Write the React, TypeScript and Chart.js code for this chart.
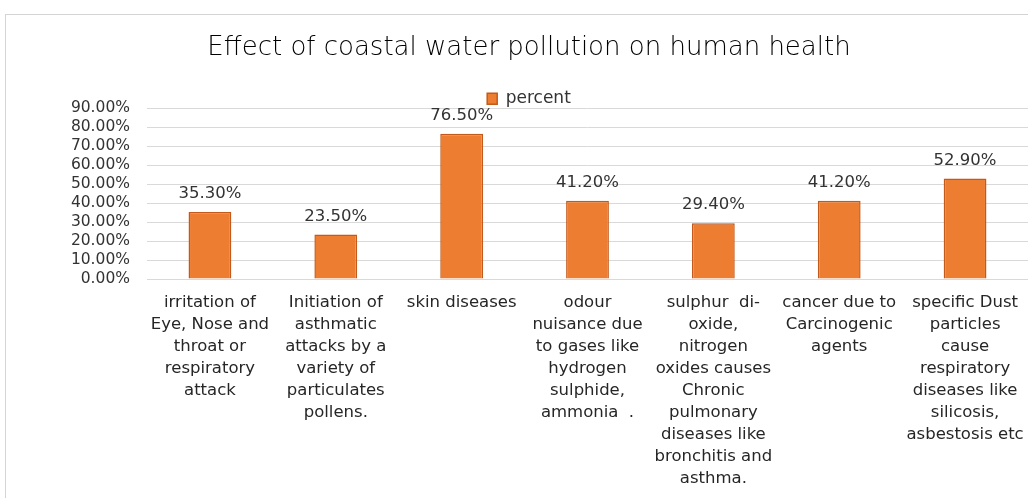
import React, { useEffect, useRef } from "react";
import { Chart, registerables } from "chart.js";

Chart.register(...registerables);

const categories: string[][] = [
  ["irritation of", "Eye, Nose and", "throat or", "respiratory", "attack"],
  ["Initiation of", "asthmatic", "attacks by a", "variety of", "particulates", "pollens."],
  ["skin diseases"],
  ["odour", "nuisance due", "to gases like", "hydrogen", "sulphide,", "ammonia  ."],
  ["sulphur  di-", "oxide,", "nitrogen", "oxides causes", "Chronic", "pulmonary", "diseases like", "bronchitis and", "asthma."],
  ["cancer due to", "Carcinogenic", "agents"],
  ["specific Dust", "particles", "cause", "respiratory", "diseases like", "silicosis,", "asbestosis etc"],
];
const percentValues: number[] = [35.3, 23.5, 76.5, 41.2, 29.4, 41.2, 52.9];
const seriesName = "percent";
const chartTitle = "Effect of coastal water pollution on human health";
const yMax = 90;
const yStep = 10;

const FONT = "'DejaVu Sans', 'Open Sans', sans-serif";

const dataLabelPlugin = {
  id: "dataLabels",
  afterDatasetsDraw(chart: any) {
    const ctx = chart.ctx;
    const meta = chart.getDatasetMeta(0);
    ctx.save();
    ctx.font = `16.5px ${FONT}`;
    ctx.fillStyle = "#333333";
    ctx.textAlign = "center";
    ctx.textBaseline = "middle";
    meta.data.forEach((bar: any, i: number) => {
      ctx.fillText(percentValues[i].toFixed(2) + "%", bar.x, bar.y - 18);
    });
    ctx.restore();
  },
};

// nudges the legend down so it sits just above the top gridline, as in the reference
const legendShiftPlugin = {
  id: "legendShift",
  afterLayout(chart: any) {
    const lg = chart.legend;
    if (lg) {
      lg.top += 9;
      lg.bottom += 9;
    }
  },
};

export default function App() {
  const ref = useRef<HTMLCanvasElement>(null);
  useEffect(() => {
    if (!ref.current) return;
    const chart = new Chart(ref.current, {
      type: "bar",
      data: {
        labels: categories,
        datasets: [
          {
            label: seriesName,
            data: percentValues,
            backgroundColor: "#ED7D31",
            borderColor: "#C25A1C",
            borderWidth: 1.5,
            categoryPercentage: 1,
            barPercentage: 0.34,
          },
        ],
      },
      options: {
        responsive: false,
        animation: false,
        layout: { padding: { left: 0, right: 0, top: 0, bottom: 0 } },
        plugins: {
          title: {
            display: true,
            text: chartTitle,
            color: "#000000",
            font: { family: FONT, size: 26, weight: "200" },
            padding: { top: 18, bottom: 17 },
          },
          legend: {
            display: true,
            labels: {
              color: "#333333",
              font: { family: FONT, size: 17 },
              boxWidth: 10,
              boxHeight: 11,
              padding: 0,
            },
          },
          tooltip: { enabled: false },
        },
        scales: {
          x: {
            grid: { display: false },
            border: { color: "#d9d9d9" },
            ticks: {
              color: "#262626",
              font: { family: FONT, size: 16.5, lineHeight: 1.333 },
              maxRotation: 0,
              autoSkip: false,
              padding: 5,
            },
            afterFit(scale: any) {
              scale.height = 219;
            },
          },
          y: {
            min: 0,
            max: yMax,
            ticks: {
              stepSize: yStep,
              autoSkip: false,
              color: "#333333",
              font: { family: FONT, size: 15.5 },
              padding: 17,
              callback: (v: any) => Number(v).toFixed(2) + "%",
            },
            grid: { color: "#d9d9d9", drawTicks: false },
            border: { display: false },
            afterFit(scale: any) {
              scale.width = 141;
            },
          },
          yRightSpace: {
            position: "right",
            min: 0,
            max: yMax,
            ticks: { display: false },
            grid: { display: false },
            border: { display: false },
            afterFit(scale: any) {
              scale.width = 24;
            },
          },
        },
      },
      plugins: [dataLabelPlugin, legendShiftPlugin],
    });
    return () => chart.destroy();
  }, []);

  return (
    <div style={{ position: "fixed", left: 0, top: 0, width: 1028, height: 498, overflow: "hidden", background: "#fff" }}>
      <div
        style={{
          position: "absolute",
          left: 5,
          top: 14,
          width: 1100,
          height: 600,
          borderLeft: "1px solid #d4d4d4",
          borderTop: "1px solid #d4d4d4",
        }}
      >
        <canvas ref={ref} width={1046} height={483} style={{ display: "block" }} />
      </div>
    </div>
  );
}
